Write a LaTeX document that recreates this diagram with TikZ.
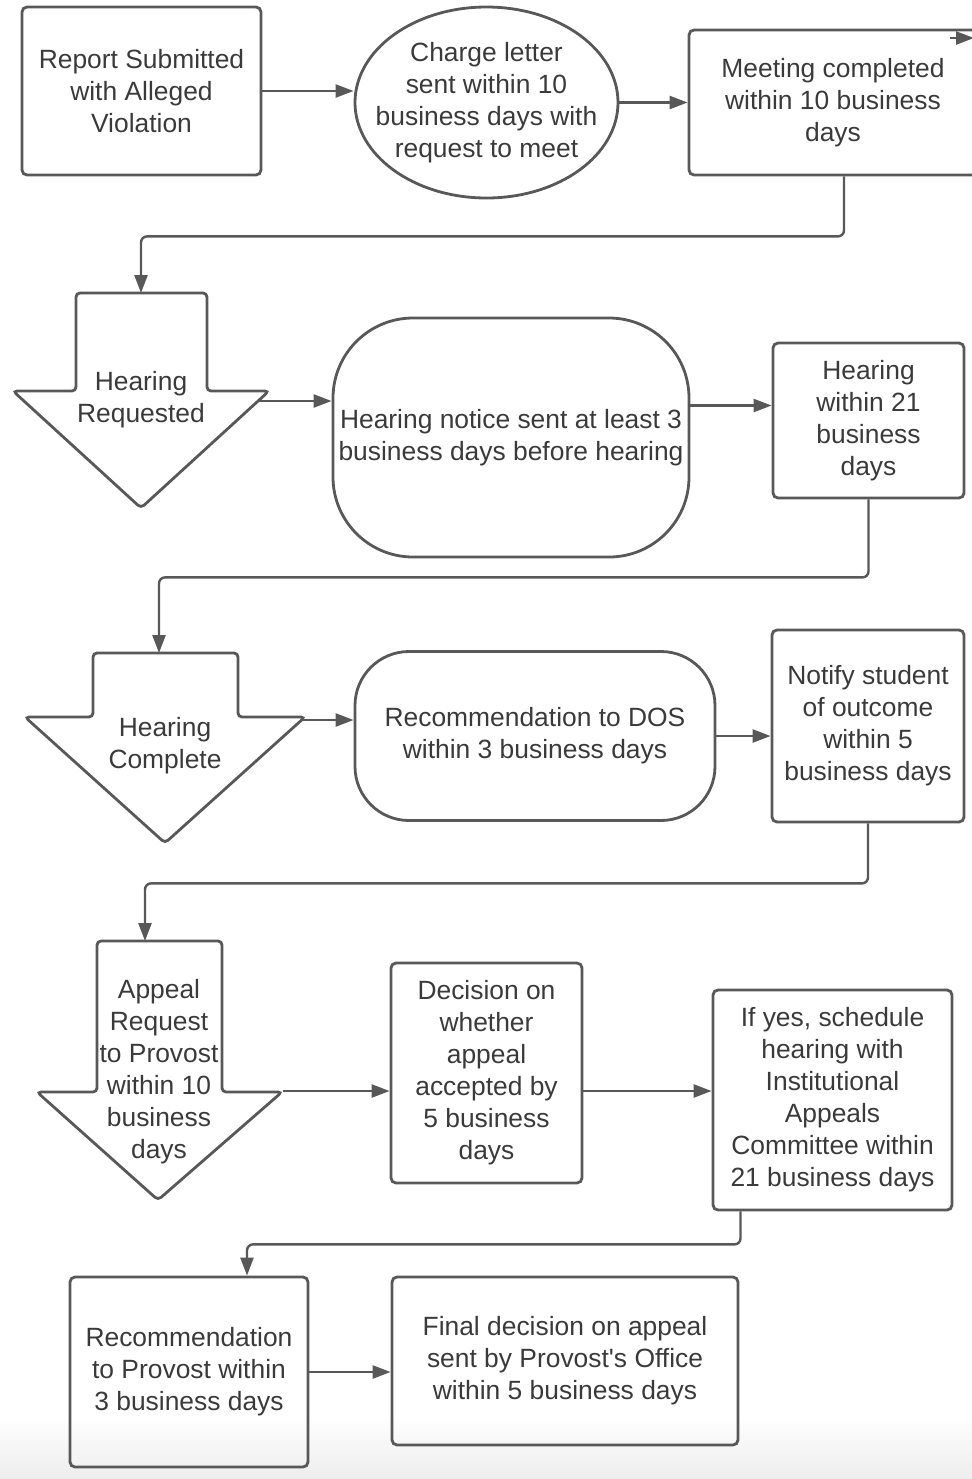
\documentclass[tikz,border=0pt]{standalone}
\usepackage{fontspec}
\setmainfont{Liberation Sans}
\newfontfamily\quotefont{Liberation Sans}
\usetikzlibrary{arrows.meta,positioning,shapes.geometric}
\definecolor{linegray}{RGB}{88,88,88}
\definecolor{textgray}{RGB}{58,58,58}
\tikzset{
    %Define standard arrow tip
    >={Triangle[length=9pt,width=6.5pt]},
    %Define style for text
    flowtext/.style={
           align=center,
           text=textgray,
           inner sep=0pt,
           font=\fontsize{13.2}{16}\selectfont},
    %Define style for boxes
    flowbox/.style={
           flowtext,
           rectangle,
           rounded corners=2.5pt,
           draw=linegray, line width=1.4pt},
    flowoval/.style={
           ellipse,
           inner sep=0pt,
           draw=linegray, line width=1.4pt},
    flowpill/.style={
           flowbox,
           rounded corners=#1},
    % Define style for the down pointing arrows
    flowdown/.style={
           draw=linegray, line width=1.4pt,
           rounded corners=2pt},
    % Define arrow style
    flowline/.style={
           ->,
           draw=linegray, line width=1.2pt,
           rounded corners=3pt}
}
\begin{document}
\begin{tikzpicture}[x=0.5pt,y=-0.5pt]
\useasboundingbox (0,0) rectangle (972,1479);
\clip (0,0) rectangle (972,1479);
\shade[top color=white,bottom color=black!7] (0,1415) rectangle (972,1479);
 %row 1
\node[flowbox, minimum width=119.5pt, minimum height=84pt] (report) at (141.5,91) {Report Submitted\\with Alleged\\Violation};
\node[flowoval, minimum width=131.5pt, minimum height=95.5pt] (charge) at (486.5,102.5) {};
\node[flowtext] (charge-text) at (charge.center) {Charge letter\\sent within 10\\business days with\\request to meet};
\node[flowbox, minimum width=144pt, minimum height=72.5pt] (meeting) at (833,102.5) {Meeting completed\\within 10 business\\days};
\coordinate (offpage) at (974,38);
 %row 2
\draw[flowdown] (76,293) -- (207,293) -- (207,391) -- (269,391) -- (141,508) -- (13,391) -- (76,391) -- cycle;
\node[flowtext] (hreq) at (141,400) {Hearing\\Requested};
\coordinate (hreq-top) at (141,293);
\coordinate (hreq-out) at (259,401);
\node[flowpill=40pt, minimum width=178pt, minimum height=119.5pt] (notice) at (511,437.5) {Hearing notice sent at least 3\\business days before hearing};
\node[flowbox, minimum width=95.5pt, minimum height=77.5pt] (hearing) at (868.5,420.5) {Hearing\\within 21\\business\\days};
 %row 3
\draw[flowdown] (93,653) -- (238,653) -- (238,717) -- (305,717) -- (165,843) -- (25,717) -- (93,717) -- cycle;
\node[flowtext] (hdone) at (165,746) {Hearing\\Complete};
\coordinate (hdone-top) at (159,653);
\coordinate (hdone-out) at (301,720);
\node[flowpill=27pt, minimum width=180pt, minimum height=84.5pt] (recdos) at (535,736) {Recommendation to DOS\\within 3 business days};
\node[flowbox, minimum width=96pt, minimum height=96pt] (notify) at (868,726) {Notify student\\of outcome\\within 5\\business days};
 %row 4
\draw[flowdown] (97,941) -- (222,941) -- (222,1092) -- (282,1092) -- (158,1200) -- (37,1092) -- (97,1092) -- cycle;
\node[flowtext] (appeal) at (159,1072) {Appeal\\Request\\to Provost\\within 10\\business\\days};
\coordinate (appeal-top) at (145,941);
\coordinate (appeal-out) at (283,1091);
\node[flowbox, minimum width=95.5pt, minimum height=110pt] (accept) at (486.5,1073) {Decision on\\whether\\appeal\\accepted by\\5 business\\days};
\node[flowbox, minimum width=119.5pt, minimum height=110pt] (schedule) at (832.5,1100) {If yes, schedule\\hearing with\\Institutional\\Appeals\\Committee within\\21 business days};
 %row 5
\node[flowbox, minimum width=119pt, minimum height=95pt] (recprov) at (189,1372) {Recommendation\\to Provost within\\3 business days};
\node[flowbox, minimum width=173pt, minimum height=84pt] (final) at (565,1361) {Final decision on appeal\\sent by Provost{\quotefont'}s Office\\within 5 business days};
 %edges
\draw[flowline] (report.east) -- (report.east -| charge.west);
\draw[flowline] (charge.east) -- (charge.east -| meeting.west);
\draw[flowline] ([xshift=-12pt]offpage) -- (offpage);
\draw[flowline] ([xshift=5.5pt]meeting.south) -- ++(0,60) -| (hreq-top);
\draw[flowline] (hreq-out) -- (hreq-out -| notice.west);
\draw[flowline] ([yshift=16pt]notice.east) -- ([yshift=16pt]notice.east -| hearing.west);
\draw[flowline] (hearing.south) -- ++(0,78) -| (hdone-top);
\draw[flowline] (hdone-out) -- (hdone-out -| recdos.west);
\draw[flowline] (recdos.east) -- (recdos.east -| notify.west);
\draw[flowline] (notify.south) -- ++(0,60) -| (appeal-top);
\draw[flowline] (appeal-out) -- (appeal-out -| accept.west);
\draw[flowline] (accept.east |- appeal-out) -- (schedule.west |- appeal-out);
\draw[flowline] ([xshift=-46pt]schedule.south) -- ++(0,33) -| ([xshift=29pt]recprov.north);
\draw[flowline] (recprov.east) -- (recprov.east -| final.west);
\end{tikzpicture}
\end{document}
